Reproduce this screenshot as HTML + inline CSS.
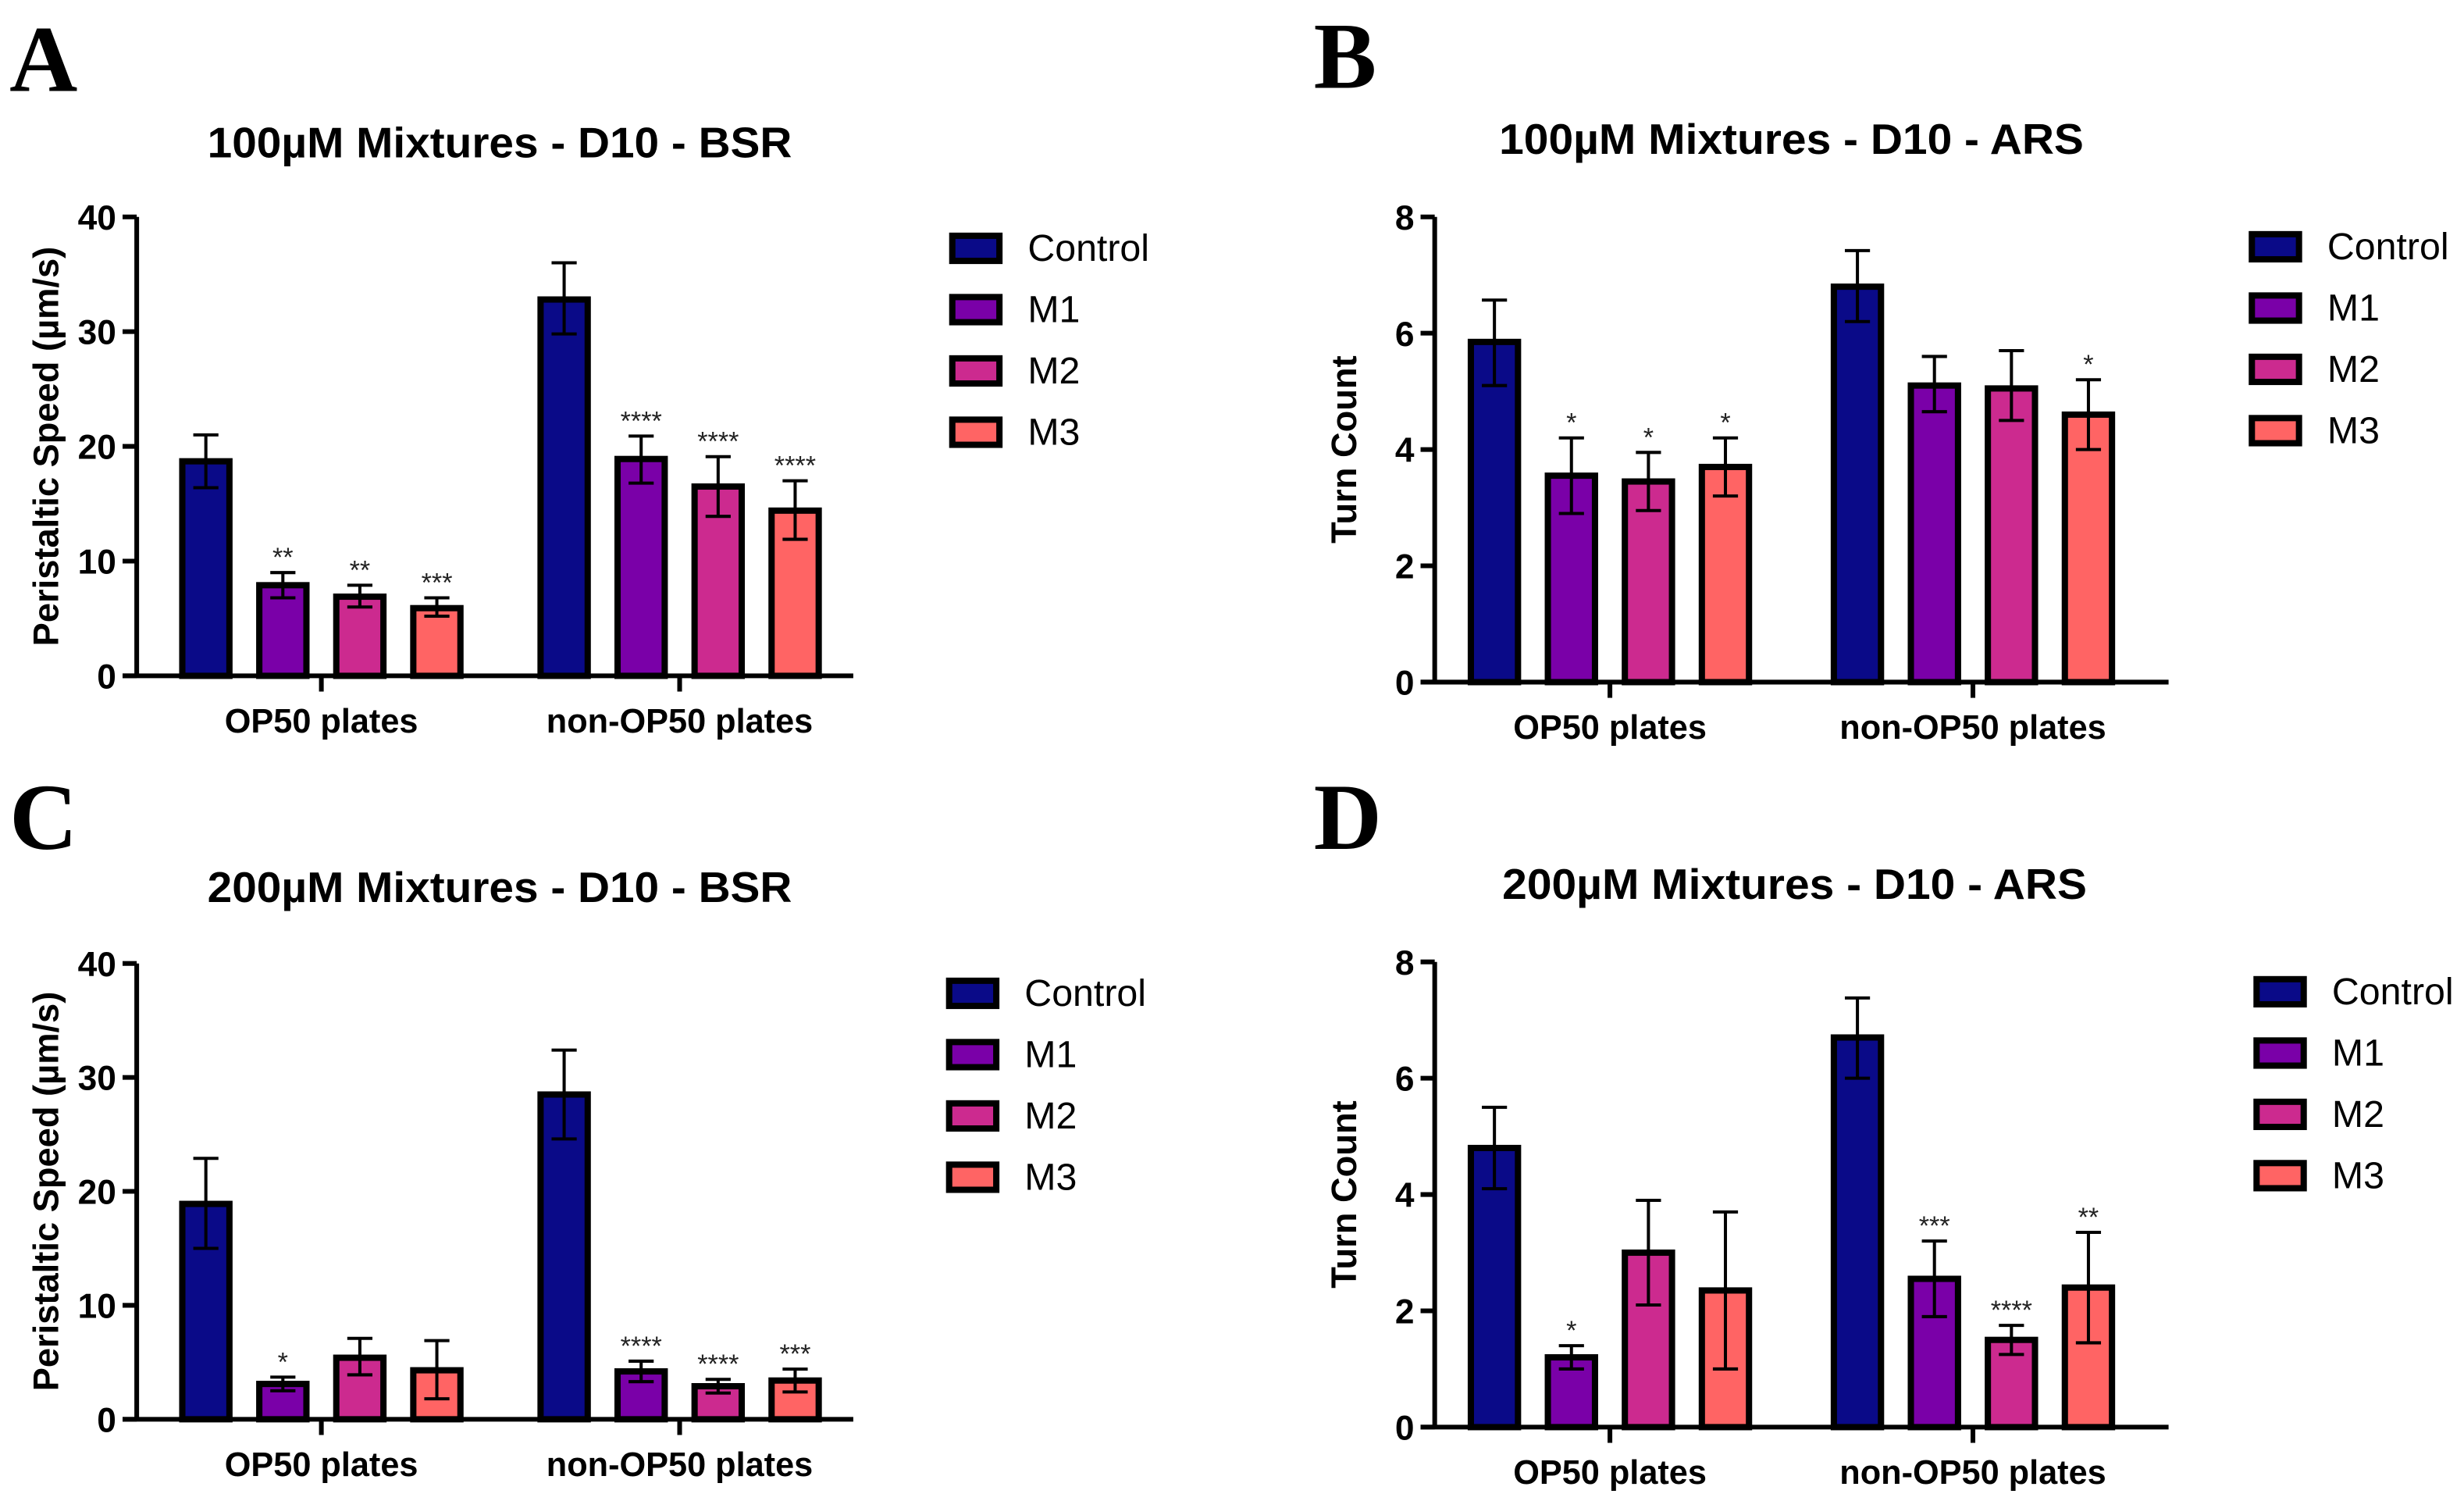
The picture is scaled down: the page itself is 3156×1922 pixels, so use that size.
<!DOCTYPE html>
<html><head><meta charset="utf-8"><style>
html,body{margin:0;padding:0;background:#fff;}
svg{display:block;}
</style></head><body>
<svg id="fig" width="3156" height="1922" viewBox="0 0 1568 955" preserveAspectRatio="none" xmlns="http://www.w3.org/2000/svg" font-family="Liberation Sans, Arial, sans-serif"></svg>
<script>
const NS="http://www.w3.org/2000/svg";
const svg=document.getElementById('fig');
const seriesNames=["Control","M1","M2","M3"];
const seriesColors=["#0a0a88","#7a00a8","#cc2a8f","#ff6464"];
const groups=["OP50 plates","non-OP50 plates"];
// Panel A
const aMeans=[[18.7,7.9,6.9,5.9],[32.8,18.9,16.5,14.4]];
const aErrHi=[[21.0,9.0,7.9,6.8],[36.0,20.9,19.1,17.0]];
const aErrLo=[[16.4,6.8,6.0,5.2],[29.8,16.8,13.9,11.9]];
const aStars=[["","**","**","***"],["","****","****","****"]];
const aTicks=[0,10,20,30,40];
// Panel B
const bMeans=[[5.85,3.55,3.45,3.7],[6.8,5.1,5.05,4.6]];
const bErrHi=[[6.57,4.2,3.95,4.2],[7.42,5.6,5.7,5.2]];
const bErrLo=[[5.1,2.9,2.95,3.2],[6.2,4.65,4.5,4.0]];
const bStars=[["","*","*","*"],["","","","*"]];
const bTicks=[0,2,4,6,8];
// Panel C
const cMeans=[[18.9,3.1,5.4,4.3],[28.5,4.2,2.9,3.4]];
const cErrHi=[[22.9,3.7,7.1,6.9],[32.4,5.1,3.5,4.4]];
const cErrLo=[[15.0,2.5,3.9,1.8],[24.6,3.3,2.3,2.4]];
const cStars=[["","*","",""],["","****","****","***"]];
const cTicks=[0,10,20,30,40];
// Panel D
const dMeans=[[4.8,1.2,3.0,2.35],[6.7,2.55,1.5,2.4]];
const dErrHi=[[5.5,1.4,3.9,3.7],[7.38,3.2,1.75,3.35]];
const dErrLo=[[4.1,1.0,2.1,1.0],[6.0,1.9,1.25,1.45]];
const dStars=[["","*","",""],["","***","****","**"]];
const dTicks=[0,2,4,6,8];

function el(tag,attrs,parent,txt){const e=document.createElementNS(NS,tag);for(const k in attrs)e.setAttribute(k,attrs[k]);if(txt!==undefined)e.textContent=txt;(parent||svg).appendChild(e);return e;}

function panel(cfg){
  const g=el('g',{});
  
  
  const L=el('text',{x:cfg.letterX,y:cfg.letterY,'font-size':60,'font-weight':'bold',style:'font-family:"Liberation Serif",serif'},g,cfg.letter);
  
  
  const T=el('text',{x:cfg.titleX,y:cfg.titleY,'font-size':27,'font-weight':'bold','text-anchor':'middle',textLength:372,lengthAdjust:'spacingAndGlyphs'},g,cfg.title);
  
  
  const vmax=cfg.ticks[cfg.ticks.length-1];
  const y=v=>cfg.y0-(v/vmax)*(cfg.y0-cfg.yTop);
  const barX=(gi,si)=>cfg.x0+cfg.groupStart[gi]+si*49;
  for(let gi=0;gi<2;gi++)for(let si=0;si<4;si++){
    const cx=barX(gi,si),m=cfg.means[gi][si];
    const r=el('rect',{x:cx-15,y:y(m),width:30,height:cfg.y0-y(m),fill:seriesColors[si],stroke:'#000','stroke-width':4},g);
    
    
    const hi=y(cfg.hi[gi][si]),lo=y(cfg.lo[gi][si]);
    const eb=el('path',{d:`M${cx},${hi}V${lo}M${cx-8},${hi}H${cx+8}M${cx-8},${lo}H${cx+8}`,stroke:'#000','stroke-width':2,fill:'none'},g);
    
    
    if(cfg.stars[gi][si]){
      const s=el('text',{x:cx,y:hi-4,'font-size':17,'text-anchor':'middle',fill:'#222'},g,cfg.stars[gi][si]);
      
      
    }
  }
  const ya=el('path',{d:`M${cfg.x0},${cfg.yTop}V${cfg.y0}`,stroke:'#000','stroke-width':3},g);
  
  
  const xa=el('path',{d:`M${cfg.x0-9},${cfg.y0}H${cfg.xEnd}`,stroke:'#000','stroke-width':3},g);
  
  
  cfg.ticks.forEach(t=>{
    el('path',{d:`M${cfg.x0-9},${y(t)}H${cfg.x0}`,stroke:'#000','stroke-width':3},g);
    const tl=el('text',{x:cfg.x0-13,y:y(t)+8,'font-size':22,'font-weight':'bold','text-anchor':'end'},g,t);
    
    
  });
  for(let gi=0;gi<2;gi++){
    const gx=(barX(gi,0)+barX(gi,3))/2;
    el('path',{d:`M${gx},${cfg.y0}V${cfg.y0+10}`,stroke:'#000','stroke-width':3},g);
    const gl=el('text',{x:gx,y:cfg.y0+36,'font-size':21.5,'font-weight':'bold','text-anchor':'middle'},g,groups[gi]);
    
    
  }
  const yl=el('text',{x:0,y:0,'font-size':22.5,'font-weight':'bold','text-anchor':'middle',transform:`translate(${cfg.x0-50},${(cfg.y0+cfg.yTop)/2}) rotate(-90)`},g,cfg.ylabel);
  
  
  for(let si=0;si<4;si++){
    const ly=cfg.legY+si*39;
    const lr=el('rect',{x:cfg.legX,y:ly-8,width:30,height:16,fill:seriesColors[si],stroke:'#000','stroke-width':4},g);
    
    
    const lt=el('text',{x:cfg.legX+48,y:ly+8,'font-size':24},g,seriesNames[si]);
    
    
  }
}
panel({id:'a',letter:'A',letterX:6,letterY:58,title:'100µM Mixtures - D10 - BSR',titleX:318,titleY:100,x0:87,y0:430,yTop:138,xEnd:543,groupStart:[44,272],means:aMeans,hi:aErrHi,lo:aErrLo,stars:aStars,ticks:aTicks,ylabel:'Peristaltic Speed (µm/s)',legX:606,legY:158});
panel({id:'b',letter:'B',letterX:836,letterY:56,title:'100µM Mixtures - D10 - ARS',titleX:1140,titleY:98,x0:913,y0:434,yTop:138,xEnd:1380,groupStart:[38,269],means:bMeans,hi:bErrHi,lo:bErrLo,stars:bStars,ticks:bTicks,ylabel:'Turn Count',legX:1433,legY:157});
panel({id:'c',letter:'C',letterX:6,letterY:540,title:'200µM Mixtures - D10 - BSR',titleX:318,titleY:574,x0:87,y0:903,yTop:613,xEnd:543,groupStart:[44,272],means:cMeans,hi:cErrHi,lo:cErrLo,stars:cStars,ticks:cTicks,ylabel:'Peristaltic Speed (µm/s)',legX:604,legY:632});
panel({id:'d',letter:'D',letterX:836,letterY:540,title:'200µM Mixtures - D10 - ARS',titleX:1142,titleY:572,x0:913,y0:908,yTop:612,xEnd:1380,groupStart:[38,269],means:dMeans,hi:dErrHi,lo:dErrLo,stars:dStars,ticks:dTicks,ylabel:'Turn Count',legX:1436,legY:631});
</script>
</body></html>
